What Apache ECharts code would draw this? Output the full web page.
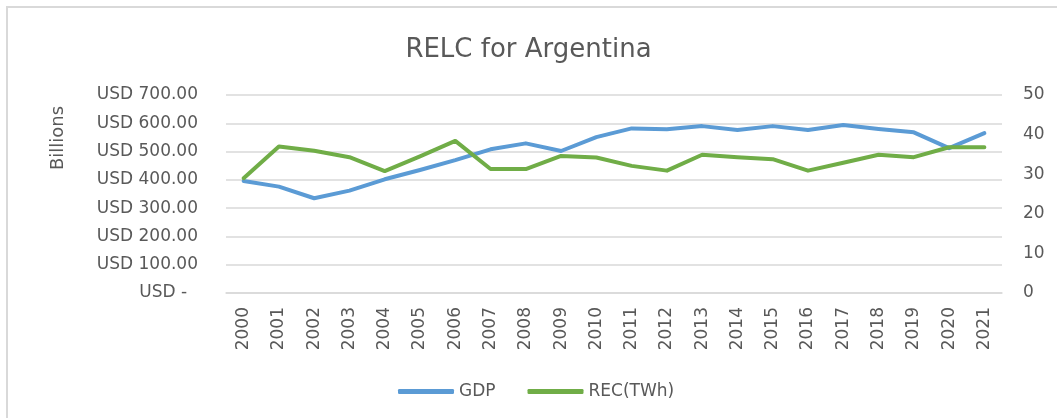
<!DOCTYPE html>
<html>
<head>
<meta charset="utf-8">
<script src="https://cdn.jsdelivr.net/npm/echarts@6/dist/echarts.min.js"></script>
<style>
	html, body { margin: 0; padding: 0; background: #fff; }
	#chart { width: 1057px; height: 418px; }
</style>
</head>
<body>
<div id="chart"></div>
<script>
// years on the x axis
var years = ['2000','2001','2002','2003','2004','2005','2006','2007','2008','2009','2010',
	'2011','2012','2013','2014','2015','2016','2017','2018','2019','2020','2021'];

// GDP, USD billions (left axis)
var gdp = [396, 376, 335, 362, 402, 435, 470, 508, 529, 502, 551,
	582, 579, 590, 576, 590, 576, 594, 580, 568, 512, 565];

// renewable electricity consumption, TWh (right axis)
var rec = [29.0, 37.0, 35.9, 34.3, 30.8, 34.5, 38.4, 31.3, 31.3, 34.6, 34.2,
	32.1, 30.9, 34.9, 34.3, 33.8, 30.9, 32.9, 34.9, 34.3, 36.8, 36.8];

var seriesNames = ['GDP', 'REC(TWh)'];

var textColor = '#595959';
var fontName = 'DejaVu Sans';

var chart = echarts.init(document.getElementById('chart'));

var option = {
	backgroundColor: '#fff',
	animation: false,
	textStyle: { fontFamily: fontName, color: textColor },
	title: {
		text: 'RELC for Argentina',
		left: 'center',
		top: 32,
		textStyle: { fontFamily: fontName, fontSize: 26, fontWeight: 'normal', color: textColor }
	},
	legend: {
		data: seriesNames,
		left: 393,
		top: 378,
		icon: 'roundRect',
		itemWidth: 56,
		itemHeight: 5,
		itemGap: 32,
		textStyle: { fontFamily: fontName, fontSize: 17, color: textColor }
	},
	grid: {
		left: 226,
		right: 55,
		top: 95,
		bottom: 125,
		containLabel: false
	},
	xAxis: {
		type: 'category',
		data: years,
		boundaryGap: true,
		axisLine: { show: true, lineStyle: { color: '#d9d9d9', width: 1.5 } },
		axisTick: { show: false },
		axisLabel: {
			rotate: 90,
			interval: 0,
			margin: 14,
			fontFamily: fontName,
			fontSize: 17,
			color: textColor
		}
	},
	yAxis: [
		{
			type: 'value',
			min: 0,
			max: 700,
			interval: 100,
			axisLine: { show: false },
			axisTick: { show: false },
			splitLine: { lineStyle: { color: '#d9d9d9', width: 1.5 } },
			axisLabel: {
				margin: 28,
				fontFamily: fontName,
				fontSize: 17,
				color: textColor,
				formatter: function (v) {
					return v === 0 ? 'USD -  ' : 'USD ' + v.toFixed(2);
				}
			}
		},
		{
			type: 'value',
			min: 0,
			max: 50,
			interval: 10,
			axisLine: { show: false },
			axisTick: { show: false },
			splitLine: { show: false },
			axisLabel: {
				margin: 21,
				fontFamily: fontName,
				fontSize: 17,
				color: textColor
			}
		}
	],
	graphic: [
		{
			type: 'text',
			x: 58,
			y: 138,
			rotation: Math.PI / 2,
			style: {
				text: 'Billions',
				font: '18px "DejaVu Sans"',
				fill: textColor,
				align: 'center',
				verticalAlign: 'middle'
			}
		},
		{
			type: 'polyline',
			shape: { points: [[7, 418], [7, 7], [1057, 7]] },
			style: { stroke: '#d9d9d9', lineWidth: 2, fill: null }
		}
	],
	series: [
		{
			name: seriesNames[0],
			type: 'line',
			yAxisIndex: 0,
			data: gdp,
			showSymbol: false,
			symbol: 'none',
			lineStyle: { color: '#5b9bd5', width: 4, cap: 'round', join: 'round' },
			itemStyle: { color: '#5b9bd5' }
		},
		{
			name: seriesNames[1],
			type: 'line',
			yAxisIndex: 1,
			data: rec,
			showSymbol: false,
			symbol: 'none',
			lineStyle: { color: '#70ad47', width: 4, cap: 'round', join: 'round' },
			itemStyle: { color: '#70ad47' }
		}
	]
};

chart.setOption(option);
</script>
</body>
</html>
